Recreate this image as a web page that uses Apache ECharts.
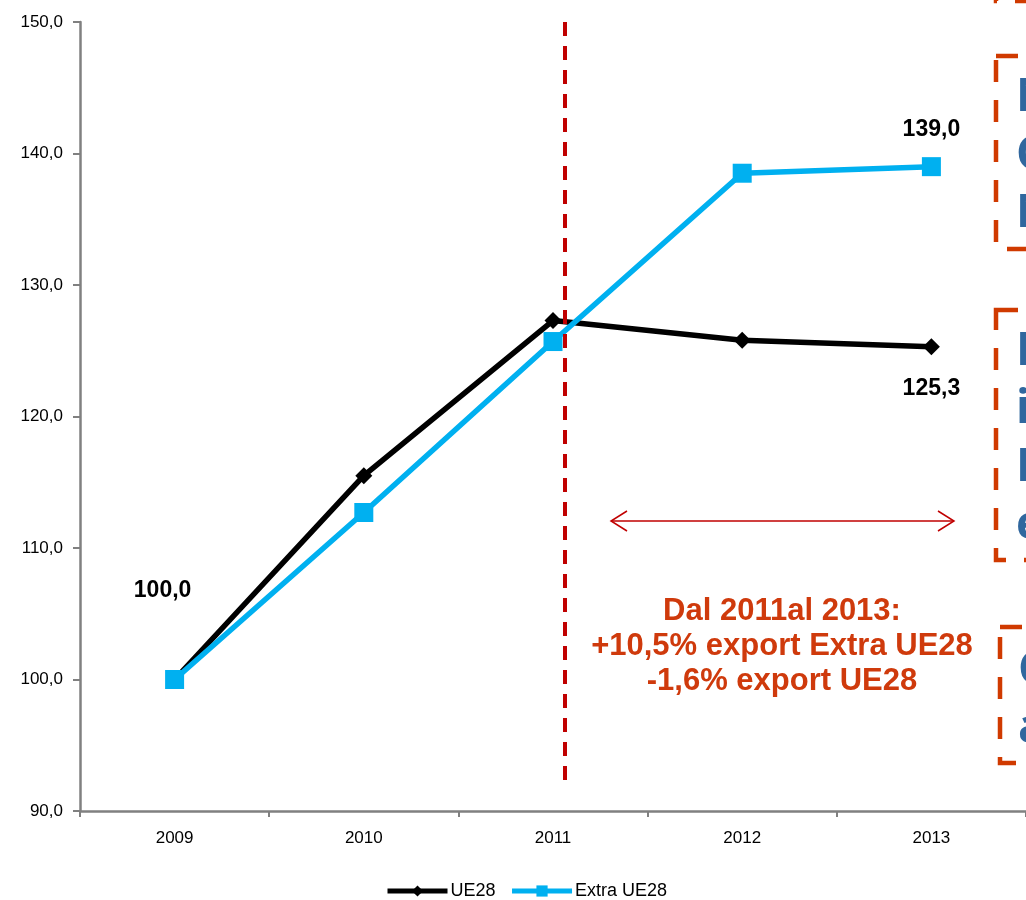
<!DOCTYPE html>
<html>
<head>
<meta charset="utf-8">
<script src="https://cdn.jsdelivr.net/npm/echarts@6/dist/echarts.min.js"></script>
<style>html,body{margin:0;padding:0;background:#fff}#c{width:1026px;height:900px}</style>
</head>
<body>
<div id="c"></div>
<script>
const categories = ['2009', '2010', '2011', '2012', '2013'];
const ue28 = [100.0, 115.5, 127.3, 125.8, 125.3];
const extraUe28 = [100.0, 112.7, 125.7, 138.5, 139.0];
const yMin = 90, yMax = 150, yStep = 10;
const annotationLines = ['Dal 2011al 2013:', '+10,5% export Extra UE28', '-1,6% export UE28'];

const NARROW = "'Liberation Sans Narrow', 'Arial Narrow', 'Liberation Sans', Arial, sans-serif";
const fmt = v => Number(v).toFixed(1).replace('.', ',');
const chart = echarts.init(document.getElementById('c'));

const ueData = ue28.map((v, i) => {
  const d = { value: v };
  if (i === 0) d.label = { show: true, position: 'top', offset: [-12, -64] };
  if (i === ue28.length - 1) d.label = { show: true, position: 'bottom', offset: [0, 17] };
  return d;
});
const exData = extraUe28.map((v, i) => {
  const d = { value: v };
  if (i === extraUe28.length - 1) d.label = { show: true, position: 'top', offset: [0, -11] };
  return d;
});
const lblStyle = { fontFamily: NARROW, fontWeight: 'bold', fontSize: 23, color: '#000', formatter: p => fmt(p.value) };

const boxStroke = '#d03a00';
const boxStyle = { fill: 'none', stroke: boxStroke, lineWidth: 4.5, lineDash: [22, 18] };
const blue = '#30679e';
const letterFont = "bold 46px 'Open Sans', 'Noto Sans', sans-serif";

chart.setOption({
  animation: false,
  grid: { left: 80, top: 22, width: 950, height: 789, containLabel: false },
  legend: {
    left: 380, top: 877,
    itemWidth: 60, itemHeight: 14, itemGap: 14,
    textStyle: { fontFamily: NARROW, fontSize: 18, color: '#000', padding: [0, 0, 0, -2] },
    data: [
      { name: 'UE28', lineStyle: { width: 5 } },
      { name: 'Extra UE28', lineStyle: { width: 5 } }
    ]
  },
  xAxis: {
    type: 'category', data: categories, boundaryGap: true,
    axisLine: { lineStyle: { color: '#808080', width: 2.5 } },
    axisTick: { show: true, length: 6, lineStyle: { color: '#808080', width: 2 } },
    axisLabel: { fontFamily: NARROW, fontSize: 17, color: '#000', margin: 19 }
  },
  yAxis: {
    type: 'value', min: yMin, max: yMax, interval: yStep,
    axisLine: { show: true, lineStyle: { color: '#808080', width: 2.5 } },
    axisTick: { show: true, length: 7, lineStyle: { color: '#808080', width: 2 } },
    splitLine: { show: false },
    axisLabel: { fontFamily: NARROW, fontSize: 17, color: '#000', margin: 17, formatter: v => fmt(v) }
  },
  series: [
    {
      name: 'UE28', type: 'line', data: ueData,
      symbol: 'diamond', symbolSize: 17,
      lineStyle: { color: '#000', width: 5.5 }, itemStyle: { color: '#000' },
      label: Object.assign({ show: false }, lblStyle), z: 2
    },
    {
      name: 'Extra UE28', type: 'line', data: exData,
      symbol: 'rect', symbolSize: 19,
      lineStyle: { color: '#00b0f0', width: 5.5 }, itemStyle: { color: '#00b0f0' },
      label: Object.assign({ show: false }, lblStyle), z: 3
    }
  ],
  graphic: [
    { type: 'line', shape: { x1: 565, y1: 22, x2: 565, y2: 780 }, style: { stroke: '#c00000', lineWidth: 4, lineDash: [14, 10] }, z: 10 },
    { type: 'line', shape: { x1: 611, y1: 521, x2: 954, y2: 521 }, style: { stroke: '#c00000', lineWidth: 1.5 } },
    { type: 'polyline', shape: { points: [[627, 511], [611, 521], [627, 531]] }, style: { stroke: '#c00000', lineWidth: 1.5, fill: null } },
    { type: 'polyline', shape: { points: [[938, 511], [954, 521], [938, 531]] }, style: { stroke: '#c00000', lineWidth: 1.5, fill: null } },
    { type: 'text', x: 782, y: 594, style: { text: annotationLines.join('\n'), fill: '#cf3a0c', font: "bold 31px " + NARROW, align: 'center', verticalAlign: 'top', lineHeight: 35 }, z: 20 },
    { type: 'rect', shape: { x: 996, y: -200, width: 200, height: 201 }, style: boxStyle },
    { type: 'rect', shape: { x: 996, y: 56, width: 200, height: 193 }, style: boxStyle },
    { type: 'rect', shape: { x: 996, y: 310, width: 200, height: 250 }, style: boxStyle },
    { type: 'rect', shape: { x: 1000, y: 627, width: 200, height: 136 }, style: boxStyle },
    { type: 'text', x: 1016, y: 69, style: { text: 'M\nC\nM', fill: blue, font: letterFont, lineHeight: 58, verticalAlign: 'top' } },
    { type: 'text', x: 1016, y: 323, style: { text: 'E\ni\nF\ne', fill: blue, font: letterFont, lineHeight: 58, verticalAlign: 'top' } },
    { type: 'text', x: 1018, y: 642, style: { text: 'C\na', fill: blue, font: letterFont, lineHeight: 58, verticalAlign: 'top' } }
  ]
});
</script>
</body>
</html>
